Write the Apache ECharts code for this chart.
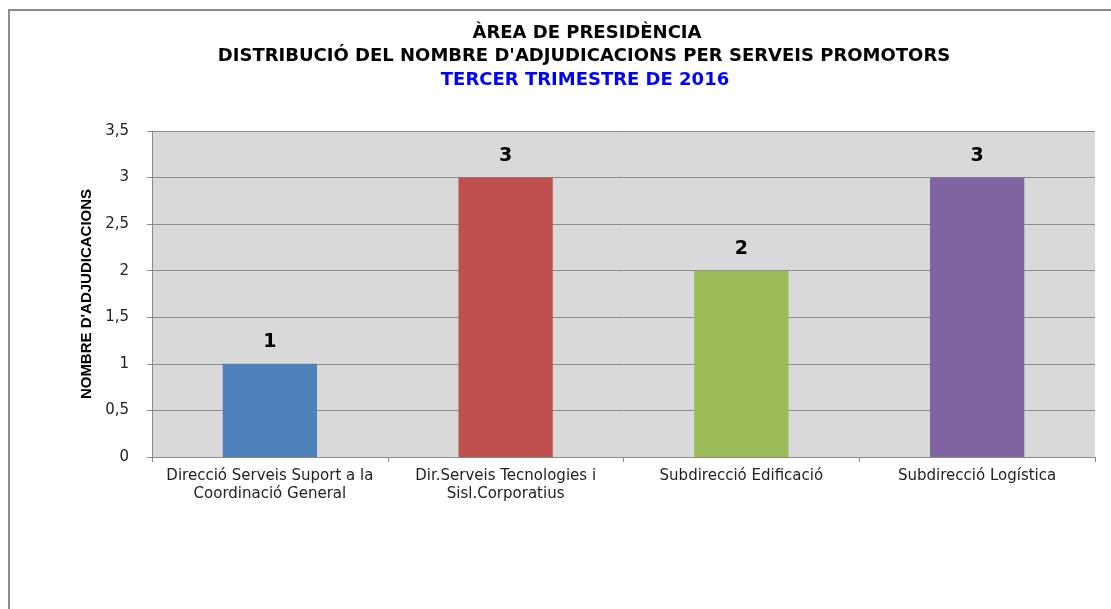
<!DOCTYPE html>
<html>
<head>
<meta charset="utf-8">
<script src="https://cdn.jsdelivr.net/npm/echarts@6/dist/echarts.min.js"></script>
<style>
  html, body { margin: 0; padding: 0; background: #fff; }
  #chart { width: 1111px; height: 609px; }
</style>
</head>
<body>
<div id="chart"></div>
<script>
// data
var serveis = [
  'Direcció Serveis Suport a la\nCoordinació General',
  'Dir.Serveis Tecnologies i\nSisl.Corporatius',
  'Subdirecció Edificació',
  'Subdirecció Logística'
];
var adjudicacions = [1, 3, 2, 3];
var colors = ['#4f81bd', '#c0504d', '#9bbb59', '#8064a2'];

var chart = echarts.init(document.getElementById('chart'));

var titleFont = { fontFamily: 'DejaVu Sans', fontSize: 18, fontWeight: 'bold', color: '#000' };

var option = {
  animation: false,
  title: [
    {
      text: 'ÀREA DE PRESIDÈNCIA',
      left: 582, top: 19, textAlign: 'center',
      textStyle: titleFont
    },
    {
      text: "DISTRIBUCIÓ DEL NOMBRE D'ADJUDICACIONS PER SERVEIS PROMOTORS",
      left: 579, top: 42, textAlign: 'center',
      textStyle: titleFont
    },
    {
      text: 'TERCER TRIMESTRE DE 2016',
      left: 580, top: 66, textAlign: 'center',
      textStyle: { fontFamily: 'DejaVu Sans', fontSize: 18, fontWeight: 'bold', color: '#0000ff' }
    }
  ],
  // outer frame (right/bottom edges run off the picture)
  graphic: [
    {
      type: 'rect',
      shape: { x: 9, y: 10, width: 1200, height: 700 },
      style: { fill: 'none', stroke: '#8c8c8c', lineWidth: 2 },
      silent: true
    }
  ],
  grid: {
    left: 152, right: 16, top: 131, bottom: 152,
    show: true, backgroundColor: '#d9d9d9', borderWidth: 0
  },
  xAxis: {
    type: 'category',
    data: serveis,
    axisLine: { show: true, lineStyle: { color: '#8c8c8c', width: 1 } },
    axisTick: { show: true, length: 5, lineStyle: { color: '#8c8c8c' } },
    axisLabel: {
      interval: 0, margin: 10,
      fontFamily: 'DejaVu Sans', fontSize: 15, color: '#222', lineHeight: 18
    }
  },
  yAxis: {
    type: 'value',
    min: 0, max: 3.5, interval: 0.5,
    name: "NOMBRE D'ADJUDICACIONS",
    nameLocation: 'middle',
    nameGap: 58,
    nameTextStyle: { fontFamily: 'Liberation Sans Narrow, Liberation Sans', fontSize: 15, fontWeight: 'bold', color: '#000' },
    axisLine: { show: true, lineStyle: { color: '#8c8c8c', width: 1 } },
    axisTick: { show: true, length: 5, lineStyle: { color: '#8c8c8c' } },
    splitLine: { show: true, lineStyle: { color: '#8c8c8c', width: 1 } },
    axisLabel: {
      margin: 23,
      fontFamily: 'DejaVu Sans', fontSize: 15, color: '#222',
      formatter: function (v) { return String(v).replace('.', ','); }
    }
  },
  series: [
    {
      type: 'bar',
      barWidth: '40%',
      data: adjudicacions.map(function (v, i) {
        return { value: v, itemStyle: { color: colors[i] } };
      }),
      label: {
        show: true, position: 'top', distance: 12,
        fontFamily: 'DejaVu Sans', fontSize: 19, fontWeight: 'bold', color: '#000'
      }
    }
  ]
};

chart.setOption(option);
</script>
</body>
</html>
